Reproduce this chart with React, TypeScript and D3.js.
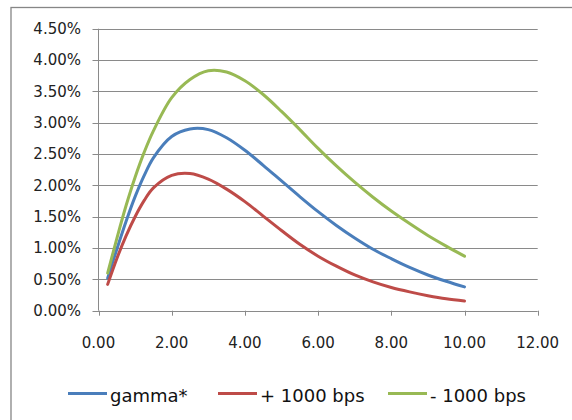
import React from "react";
import * as d3 from "d3";

const xValues = [0.25, 0.5, 0.75, 1, 1.25, 1.5, 2, 2.5, 3, 3.5, 4, 4.5, 5, 5.5, 6, 6.5, 7, 7.5, 8, 8.5, 9, 9.5, 10];
const gammaStar = [0.52, 0.98, 1.42, 1.82, 2.16, 2.44, 2.78, 2.9, 2.89, 2.76, 2.56, 2.32, 2.07, 1.82, 1.58, 1.36, 1.16, 0.98, 0.83, 0.69, 0.57, 0.47, 0.38];
const plus1000 = [0.42, 0.83, 1.19, 1.5, 1.76, 1.96, 2.16, 2.19, 2.1, 1.94, 1.74, 1.51, 1.28, 1.06, 0.87, 0.71, 0.57, 0.46, 0.37, 0.3, 0.24, 0.19, 0.155];
const minus1000 = [0.6, 1.15, 1.67, 2.13, 2.53, 2.87, 3.4, 3.69, 3.83, 3.81, 3.67, 3.45, 3.18, 2.89, 2.59, 2.31, 2.05, 1.81, 1.59, 1.39, 1.2, 1.03, 0.87];

const seriesNames = ["gamma*", "+ 1000 bps", "- 1000 bps"];
const seriesColors = ["#4A7EBB", "#BE4B48", "#98B954"];
const seriesData = [gammaStar, plus1000, minus1000];

const xTicks = [0, 2, 4, 6, 8, 10, 12];
const yTicks = [0, 0.5, 1, 1.5, 2, 2.5, 3, 3.5, 4, 4.5];

const FONT = "'DejaVu Sans', sans-serif";

export default function App() {
  const x = d3.scaleLinear().domain([0, 12]).range([98.5, 537.7]);
  const y = d3.scaleLinear().domain([0, 4.5]).range([310.7, 28.7]);
  const line = d3
    .line<number>()
    .x((_, i) => x(xValues[i]))
    .y((d) => y(d))
    .curve(d3.curveCatmullRom.alpha(0.5));

  const legendX = [68, 218, 388];

  return (
    <svg
      width={572}
      height={420}
      style={{ position: "absolute", left: 0, top: 0, background: "#fff" }}
    >
      <rect x={11} y={7.5} width={600} height={440} fill="#fff" stroke="#868686" strokeWidth={1.3} />
      {yTicks.map((t) => (
        <g key={"y" + t}>
          <line x1={92.5} x2={x(12)} y1={Math.round(y(t)) + 0.5} y2={Math.round(y(t)) + 0.5} stroke="#8a8a8a" strokeWidth={1} />
          <text
            x={81}
            y={y(t)}
            dy="0.36em"
            textAnchor="end"
            fontFamily={FONT}
            fontSize={15}
            fill="#222"
          >
            {t.toFixed(2) + "%"}
          </text>
        </g>
      ))}
      <line x1={98.5} x2={98.5} y1={y(4.5)} y2={y(0)} stroke="#8a8a8a" strokeWidth={1} />
      {xTicks.map((t) => (
        <g key={"x" + t}>
          <line x1={Math.round(x(t)) + 0.5} x2={Math.round(x(t)) + 0.5} y1={y(0)} y2={y(0) + 5} stroke="#8a8a8a" strokeWidth={1} />
          <text
            x={x(t)}
            y={343}
            dy="0.36em"
            textAnchor="middle"
            fontFamily={FONT}
            fontSize={15}
            fill="#222"
          >
            {t.toFixed(2)}
          </text>
        </g>
      ))}
      {seriesData.map((s, i) => (
        <path key={"s" + i} d={line(s) || ""} fill="none" stroke={seriesColors[i]} strokeWidth={3} strokeLinecap="round" />
      ))}
      {seriesNames.map((n, i) => (
        <g key={"l" + i}>
          <line x1={legendX[i]} x2={legendX[i] + 39} y1={393.5} y2={393.5} stroke={seriesColors[i]} strokeWidth={3} />
          <text x={legendX[i] + 42} y={401.5} fontFamily={FONT} fontSize={18} fill="#111">
            {n}
          </text>
        </g>
      ))}
    </svg>
  );
}
